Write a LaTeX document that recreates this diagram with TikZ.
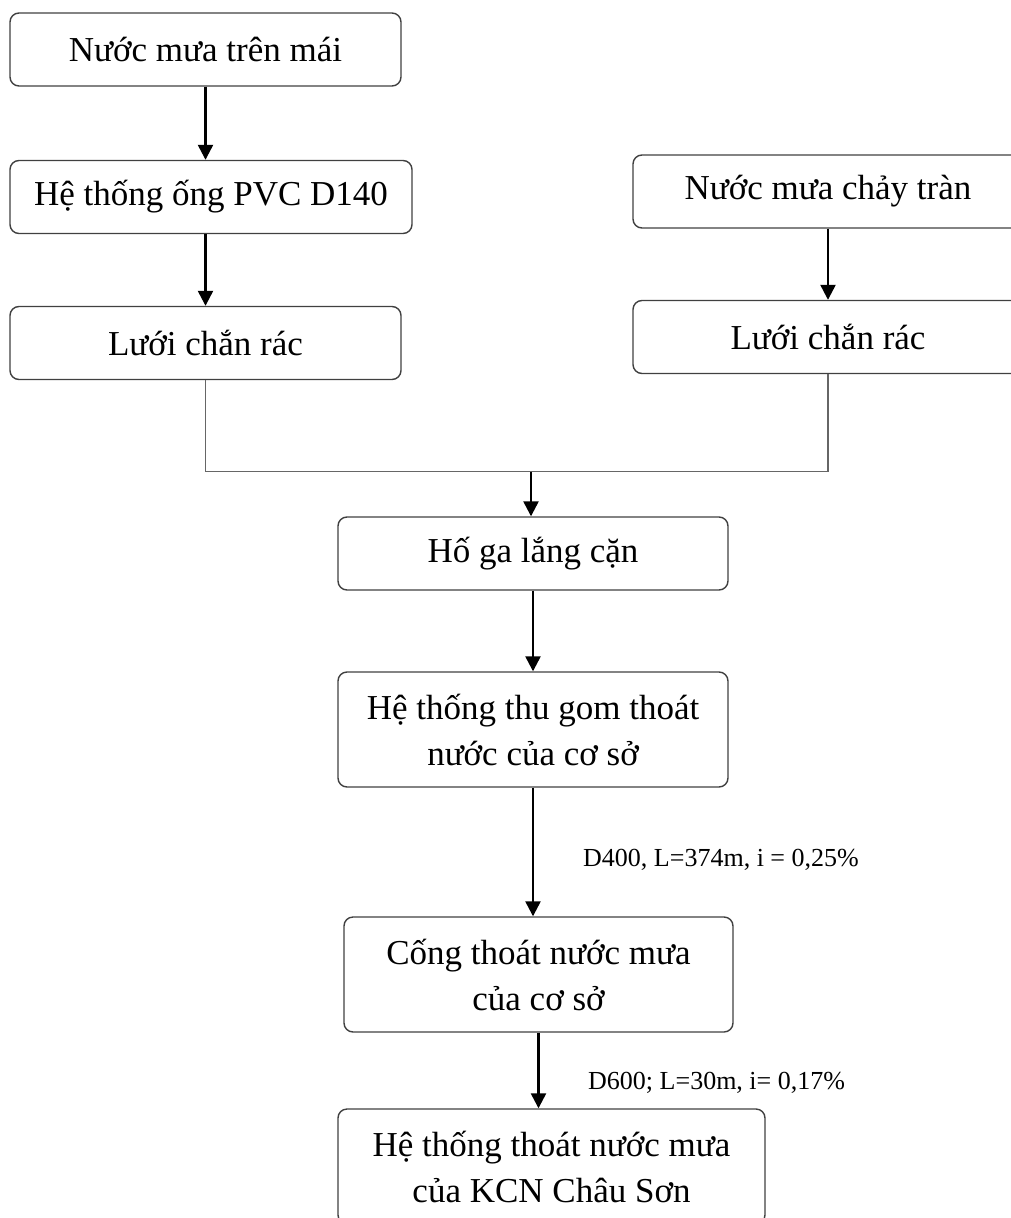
\documentclass[tikz,border=0pt]{standalone}
\usepackage{fontspec}
\setmainfont{Liberation Serif}
\usetikzlibrary{arrows.meta}
\begin{document}
\begin{tikzpicture}[x=1pt,y=-1pt,
  stepbox/.style={draw=black!75, line width=1.4pt, rounded corners=9pt,
    inner sep=0pt, align=center, font=\fontsize{35}{46}\selectfont},
  flow/.style={draw=black, line width=2.4pt,
    -{Triangle[width=15pt,length=15pt]}},
  joinline/.style={draw=black!60, line width=1.6pt},
  pipelabel/.style={anchor=west, inner sep=0pt, font=\fontsize{26}{30}\selectfont}
]
\clip (0,0) rectangle (1011,1218);
\useasboundingbox (0,0) rectangle (1011,1218);

% left branch: roof rainwater
\node[stepbox, minimum width=391pt, minimum height=73pt] (b1) at (205.5,49.5) {Nước mưa trên mái};
\node[stepbox, minimum width=402pt, minimum height=73pt] (b2) at (211,197) {Hệ thống ống PVC D140};
\node[stepbox, minimum width=391pt, minimum height=73pt] (b3) at (205.5,343) {Lưới chắn rác};

% right branch: surface runoff
\node[stepbox, minimum width=390pt, minimum height=73pt] (r1) at (828,191.5) {Nước mưa chảy tràn};
\node[stepbox, minimum width=390pt, minimum height=73pt] (r2) at (828,337) {Lưới chắn rác};

% main line
\node[stepbox, minimum width=390pt, minimum height=73pt] (hg) at (533,553.5) {Hố ga lắng cặn};
\node[stepbox, minimum width=390pt, minimum height=115pt] (ht) at (533,729.5) {Hệ thống thu gom thoát\\nước của cơ sở};
\node[stepbox, minimum width=389pt, minimum height=115pt] (ct) at (538.5,974.5) {Cống thoát nước mưa\\của cơ sở};
\node[stepbox, minimum width=427pt, minimum height=115pt] (kcn) at (551.5,1166.5) {Hệ thống thoát nước mưa\\của KCN Châu Sơn};

\coordinate (j) at (531,471.5);

% connectors
\draw[flow] (b1.south) -- (b1.south |- b2.north);
\draw[flow] (b1.south |- b2.south) -- (b1.south |- b3.north);
\draw[flow] (r1.south) -- (r2.north);
\draw[joinline] (b3.south) |- (j) -| (r2.south);
\draw[flow] (j) -- (j |- hg.north);
\draw[flow] (hg.south) -- (ht.north);
\draw[flow] (ht.south) -- (ht.south |- ct.north);
\draw[flow] (ct.south) -- (ct.south |- kcn.north);

% pipe labels
\node[pipelabel] (lab1) at (583,860) {D400, L=374m, i = 0,25\%};
\node[pipelabel] (lab2) at (588,1083) {D600; L=30m, i= 0,17\%};
\end{tikzpicture}
\end{document}
